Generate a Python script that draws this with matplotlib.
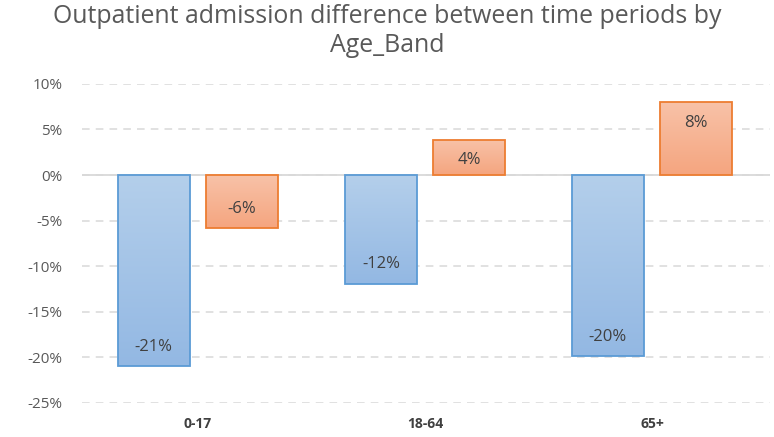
import numpy as np
import matplotlib.pyplot as plt
from matplotlib.colors import LinearSegmentedColormap
from matplotlib.ticker import FuncFormatter

plt.rcParams['font.family'] = ['Open Sans', 'DejaVu Sans']

age_bands = ["0-17", "18-64", "65+"]
period_a = [-0.21, -0.119, -0.199]
period_b = [-0.058, 0.039, 0.080]

blue_grad = LinearSegmentedColormap.from_list("b", ["#b4cfeb", "#93b8e3"])
orange_grad = LinearSegmentedColormap.from_list("o", ["#f8c2a8", "#f5a57f"])

fig = plt.figure(figsize=(7.74, 4.37), dpi=100)
ax = fig.add_axes([0.106, 0.078, 0.889, 0.730])

x = np.arange(len(age_bands))
w = 0.317
off = 0.194

def grad_bars(xs, vals, cmap, edge):
    bars = ax.bar(xs, vals, w, facecolor='none', edgecolor=edge, linewidth=1.3, zorder=3)
    grad = np.linspace(0, 1, 256).reshape(-1, 1)
    for b in bars:
        bx, by = b.get_x(), b.get_y()
        bw, bh = b.get_width(), b.get_height()
        y0, y1 = min(by, by + bh), max(by, by + bh)
        im = ax.imshow(grad, cmap=cmap, aspect='auto', extent=[bx, bx + bw, y0, y1],
                       origin='upper', zorder=2)
        im.set_clip_path(b)
    for b, v in zip(bars, vals):
        cx = b.get_x() + b.get_width() / 2
        ty = v + 0.021 if v < 0 else v - 0.023
        ax.text(cx, ty, "{:.0f}%".format(round(v * 100)), ha='center', va='center',
                fontsize=12, color='#404040', zorder=4)
    return bars

grad_bars(x - off, period_a, blue_grad, '#5b9bd5')
grad_bars(x + off, period_b, orange_grad, '#ed7d31')

ax.set_xlim(-0.51, 2.52)
ax.set_ylim(-0.25, 0.10)
ax.set_yticks(np.arange(-0.25, 0.101, 0.05))
ax.yaxis.set_major_formatter(FuncFormatter(lambda v, p: "{:.0f}%".format(round(v * 100))))
ax.set_xticks(x)
ax.set_xticklabels(age_bands, fontweight='bold', fontsize=10, color='#404040')
ax.tick_params(axis='y', labelsize=11, labelcolor='#595959', length=0, pad=14)
ax.tick_params(axis='x', length=0, pad=10)

ax.grid(axis='y', color='#d9d9d9', linestyle=(0, (5, 4)), linewidth=1.1, zorder=0)
ax.set_axisbelow(True)
ax.axhline(0, color='#d9d9d9', linewidth=1.3, zorder=1)
for s in ax.spines.values():
    s.set_visible(False)

fig.text(0.5, 0.99, "Outpatient admission difference between time periods by\nAge_Band",
         ha='center', va='top', fontsize=17.9, color='#595959', linespacing=1.2)

fig.savefig("out.png", dpi=100)
